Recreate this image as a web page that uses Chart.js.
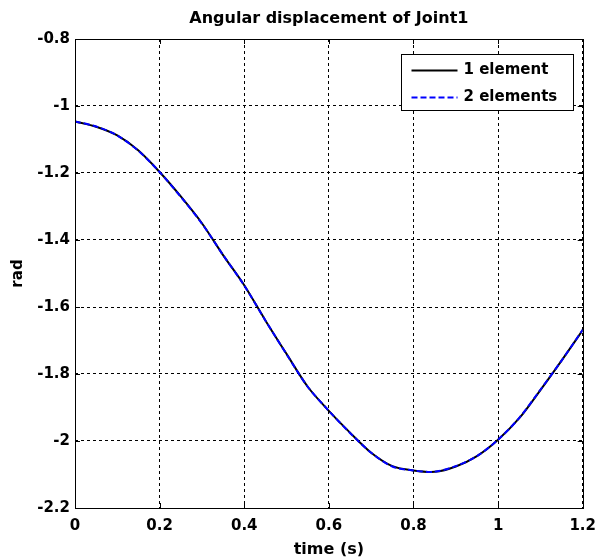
<!DOCTYPE html>
<html>
<head>
<meta charset="utf-8">
<script src="https://cdn.jsdelivr.net/npm/chart.js@4/dist/chart.umd.min.js"></script>
<style>
html, body { margin: 0; padding: 0; background: #fff; }
</style>
</head>
<body>
<canvas id="myChart" width="605" height="560"></canvas>
<script>
const TIME = [0, 0.05, 0.1, 0.15, 0.2, 0.25, 0.3, 0.35, 0.4, 0.45, 0.5, 0.55, 0.6,
              0.65, 0.7, 0.75, 0.8, 0.85, 0.9, 0.95, 1.0, 1.05, 1.1, 1.15, 1.2];
const ONE_ELEMENT = [-1.046, -1.062, -1.088, -1.133, -1.197, -1.27, -1.35, -1.445, -1.535, -1.64, -1.74, -1.838, -1.91,
                     -1.975, -2.035, -2.075, -2.088, -2.092, -2.076, -2.045, -1.996, -1.932, -1.848, -1.76, -1.669];
const TWO_ELEMENTS = [-1.046, -1.061, -1.088, -1.134, -1.197, -1.271, -1.351, -1.445, -1.536, -1.64, -1.741, -1.838, -1.91,
                      -1.976, -2.035, -2.076, -2.088, -2.092, -2.075, -2.045, -1.996, -1.931, -1.847, -1.76, -1.668];
const SERIES_LABELS = ['1 element', '2 elements'];
const TITLE = 'Angular displacement of Joint1';
const X_TICKS = [0, 0.2, 0.4, 0.6, 0.8, 1, 1.2];
const X_TICK_LABELS = ['0', '0.2', '0.4', '0.6', '0.8', '1', '1.2'];
const Y_TICKS = [-0.8, -1, -1.2, -1.4, -1.6, -1.8, -2, -2.2];
const Y_TICK_LABELS = ['-0.8', '-1', '-1.2', '-1.4', '-1.6', '-1.8', '-2', '-2.2'];

const FONT_FAMILY = '"DejaVu Sans", "Liberation Sans", Arial, sans-serif';

function toPoints(ys){ // pair the y values with the time axis
    return ys.map((y, i) => ({x: TIME[i], y: y}));
}

// title over the plot, frame, inward ticks and the legend box drawn the matlab way
const matlabFrame = {
    id: 'matlabFrame',
    afterDraw(chart){
        const ctx = chart.ctx;
        const ca = chart.chartArea;
        const xs = chart.scales.x, ys = chart.scales.y;
        ctx.save();

        ctx.fillStyle = '#000';
        ctx.font = 'bold 16px ' + FONT_FAMILY;
        ctx.textAlign = 'center';
        ctx.textBaseline = 'middle';
        ctx.fillText(TITLE, (ca.left + ca.right) / 2, 19);
        ctx.textAlign = 'left';

        ctx.setLineDash([]);
        ctx.strokeStyle = '#000';
        ctx.lineWidth = 1;
        ctx.beginPath();
        X_TICKS.forEach(v => {
            const px = Math.round(xs.getPixelForValue(v)) + 0.5;
            ctx.moveTo(px, ca.bottom); ctx.lineTo(px, ca.bottom - 5);
            ctx.moveTo(px, ca.top); ctx.lineTo(px, ca.top + 5);
        });
        Y_TICKS.forEach(v => {
            const py = Math.round(ys.getPixelForValue(v)) + 0.5;
            ctx.moveTo(ca.left, py); ctx.lineTo(ca.left + 5, py);
            ctx.moveTo(ca.right, py); ctx.lineTo(ca.right - 5, py);
        });
        ctx.stroke();
        ctx.strokeRect(Math.round(ca.left) + 0.5, Math.round(ca.top) + 0.5,
                       Math.round(ca.right - ca.left), Math.round(ca.bottom - ca.top));

        // legend
        const bw = 172, bh = 56;
        const bx = Math.round(ca.right - bw - 10) + 0.5;
        const by = Math.round(ca.top + 15) + 0.5;
        ctx.fillStyle = '#fff';
        ctx.fillRect(bx, by, bw, bh);
        ctx.strokeRect(bx, by, bw, bh);
        ctx.font = 'bold 15px ' + FONT_FAMILY;
        chart.data.datasets.forEach((ds, i) => {
            const ry = by + 16 + i * 27;
            ctx.strokeStyle = ds.borderColor;
            ctx.lineWidth = 2;
            ctx.setLineDash(ds.borderDash || []);
            ctx.beginPath();
            ctx.moveTo(bx + 10, ry); ctx.lineTo(bx + 56, ry);
            ctx.stroke();
            ctx.fillStyle = '#000';
            ctx.fillText(ds.label, bx + 62, ry);
        });
        ctx.restore();
    }
};

const CTX = document.getElementById('myChart').getContext('2d');
const CONFIG = {
    type: 'line',
    data: {
        datasets: [
            {
                label: SERIES_LABELS[0],
                data: toPoints(ONE_ELEMENT),
                borderColor: '#000000',
                borderWidth: 2,
                pointRadius: 0,
                tension: 0.3,
                order: 1
            },
            {
                label: SERIES_LABELS[1],
                data: toPoints(TWO_ELEMENTS),
                borderColor: '#0000ff',
                borderWidth: 2,
                borderDash: [6, 3],
                pointRadius: 0,
                tension: 0.3,
                order: 0
            }
        ]
    },
    options: {
        responsive: false,
        animation: false,
        devicePixelRatio: 1,
        layout: { padding: { left: 0, right: 18, top: 39, bottom: 0 } },
        plugins: {
            legend: { display: false },
            tooltip: { enabled: false },
            title: { display: false }
        },
        scales: {
            x: {
                type: 'linear',
                min: 0,
                max: 1.2,
                afterBuildTicks: axis => { axis.ticks = X_TICKS.map(v => ({value: v})); },
                afterFit: axis => { axis.height = 52; },
                ticks: {
                    color: '#000',
                    padding: 9,
                    maxRotation: 0,
                    font: { family: FONT_FAMILY, size: 15, weight: 'bold' },
                    callback: (v) => X_TICK_LABELS[X_TICKS.indexOf(v)]
                },
                grid: { color: '#000', lineWidth: 1, drawTicks: false, tickLength: 0 },
                border: { display: false, dash: [3, 3] },
                title: {
                    display: true,
                    text: 'time (s)',
                    color: '#000',
                    font: { family: FONT_FAMILY, size: 16, weight: 'bold' },
                    padding: { top: 0, bottom: 1 }
                }
            },
            y: {
                type: 'linear',
                min: -2.2,
                max: -0.8,
                afterBuildTicks: axis => { axis.ticks = Y_TICKS.map(v => ({value: v})); },
                afterFit: axis => { axis.width = 75; },
                ticks: {
                    color: '#000',
                    padding: 5,
                    font: { family: FONT_FAMILY, size: 15, weight: 'bold' },
                    callback: (v) => Y_TICK_LABELS[Y_TICKS.indexOf(v)]
                },
                grid: { color: '#000', lineWidth: 1, drawTicks: false, tickLength: 0 },
                border: { display: false, dash: [3, 3] },
                title: {
                    display: true,
                    text: 'rad',
                    color: '#000',
                    font: { family: FONT_FAMILY, size: 15, weight: 'bold' },
                    padding: { top: 9, bottom: 0 }
                }
            }
        }
    },
    plugins: [matlabFrame]
};
const myChart = new Chart(CTX, CONFIG);
</script>
</body>
</html>
